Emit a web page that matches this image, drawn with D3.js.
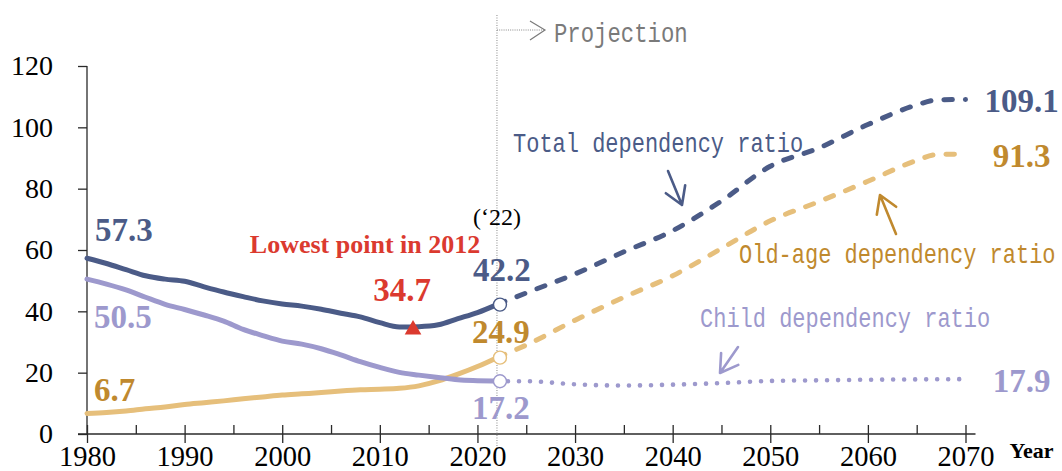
<!DOCTYPE html>
<html><head><meta charset="utf-8">
<script src="https://cdn.jsdelivr.net/npm/d3@7"></script>
<style>body{margin:0;background:#fff} svg{display:block}</style>
</head><body><svg id="c" width="1062" height="471"></svg>
<script>
// ---------- DATA ----------
const histYears = [1980,1982,1984,1986,1988,1990,1992,1994,1996,1998,2000,2002,2004,2006,2008,2010,2012,2014,2016,2018,2020,2022];
const totalHist = [57.3,55.6,53.6,51.6,50.5,49.8,48.0,46.3,44.8,43.4,42.4,41.7,40.7,39.4,38.2,36.3,34.9,35.0,35.6,37.6,39.6,42.2];
const childHist = [50.5,48.9,47.0,44.6,42.3,40.6,38.8,36.8,34.1,32.1,30.3,29.3,27.8,25.8,23.6,21.7,20.1,19.2,18.4,17.7,17.4,17.2];
const oldHist   = [6.7,7.0,7.5,8.2,8.8,9.6,10.2,10.8,11.5,12.1,12.7,13.1,13.5,14.0,14.4,14.6,14.9,15.7,17.3,19.5,22.0,24.9];

const projYears = [2022,2025,2030,2035,2040,2045,2050,2055,2060,2065,2067,2070];
const totalProj = [42.2,46.0,52.2,59.4,66.3,76.0,87.3,93.3,100.9,107.3,108.9,109.1];
const oldProj   = [24.9,29.0,37.1,44.6,51.6,60.5,69.5,75.8,82.4,89.2,91.1,91.3];
const childProj = [17.2,17.2,16.2,15.8,16.1,16.6,17.3,17.5,17.7,17.8,17.85,17.9];

const lowestPoint = {year: 2013.4, value: 34.7, label: "Lowest point in 2012"};
const baseYear = 2022;

const xTicks = d3.range(1980, 2071, 5);
const yTicks = [0,20,40,60,80,100,120];

const seriesNames = {total: "Total dependency ratio", old: "Old-age dependency ratio", child: "Child dependency ratio"};

// ---------- STYLE ----------
const C = {
  total: "#4b5b87", totalText: "#4b5b87",
  old: "#e6bf7b", oldText: "#c0892e",
  child: "#9d99cd", childText: "#9d99cd",
  red: "#db3a2f", axis: "#2a2a2a", grey: "#7a7a7a"
};
const SERIF = "'Liberation Serif','Times New Roman',serif";
const MONO = "'Liberation Mono','DejaVu Sans Mono',monospace";

const svg = d3.select("#c");
const x = d3.scaleLinear().domain([1980, 2070]).range([87, 965.5]);
const y = d3.scaleLinear().domain([0, 120]).range([434, 66]);

// ---------- AXES ----------
const gy = svg.append("g").attr("transform", `translate(${x(1980)},0)`)
  .call(d3.axisLeft(y).tickValues(yTicks).tickSize(9).tickPadding(25));
gy.select(".domain").remove();
gy.selectAll(".tick line").attr("stroke", C.axis).attr("stroke-width", 1.3);
gy.selectAll(".tick text").attr("font-family", SERIF).attr("font-size", 28).attr("fill", "#000");
svg.append("line").attr("x1", x(1980)).attr("x2", x(1980)).attr("y1", y(120)).attr("y2", y(0))
  .attr("stroke", C.axis).attr("stroke-width", 1.3);

const gx = svg.append("g").attr("transform", `translate(0,${y(0)})`)
  .call(d3.axisBottom(x).tickValues(xTicks).tickSize(0).tickPadding(0)
    .tickFormat(d => d % 10 === 0 ? d : ""));
gx.select(".domain").remove();
gx.selectAll(".tick line").attr("y1", -9).attr("y2", d => d % 10 === 0 ? 9 : 0)
  .attr("stroke", C.axis).attr("stroke-width", 1.3);
gx.selectAll(".tick text").attr("font-family", SERIF).attr("font-size", 28.5)
  .attr("fill", "#000").attr("y", 32).attr("dy", 0);
svg.append("line").attr("x1", x(1980) - 9).attr("x2", x(2070) + 10).attr("y1", y(0)).attr("y2", y(0))
  .attr("stroke", C.axis).attr("stroke-width", 1.3);
svg.append("text").attr("x", x(2070) + 44).attr("y", 458).text("Year")
  .attr("font-family", SERIF).attr("font-weight", "bold").attr("font-size", 22).attr("fill", "#000");

// ---------- NOTE TEXT (mono, slightly tall) ----------
function note(txt, xx, yy, color, size = 22) {
  svg.append("text").attr("transform", `translate(${xx},${yy}) scale(1,1.22)`).text(txt)
    .attr("font-family", MONO).attr("font-size", size).attr("fill", color);
}

// ---------- PROJECTION MARKER ----------
const xb = x(baseYear);
svg.append("line").attr("x1", xb).attr("x2", xb).attr("y1", 15).attr("y2", 448)
  .attr("stroke", "#888").attr("stroke-width", 1).attr("stroke-dasharray", "1,1.5");
svg.append("line").attr("x1", xb).attr("x2", xb + 47).attr("y1", 30).attr("y2", 30)
  .attr("stroke", "#888").attr("stroke-width", 1).attr("stroke-dasharray", "1,1.2");
svg.append("path").attr("d", `M${xb+33},21 L${xb+48},30 L${xb+33},40`)
  .attr("fill", "none").attr("stroke", C.grey).attr("stroke-width", 1.2);
note("Projection", xb + 57, 42, C.grey, 22.3);

// ---------- LINES ----------
const line = d3.line().x(d => x(d[0])).y(d => y(d[1])).curve(d3.curveMonotoneX);
const zip = (a, b) => a.map((v, i) => [v, b[i]]);

function draw(data, color, dash, width) {
  svg.append("path").datum(data).attr("d", line).attr("fill", "none")
    .attr("stroke", color).attr("stroke-width", width)
    .attr("stroke-linecap", "round").attr("stroke-linejoin", "round")
    .attr("stroke-dasharray", dash);
}
draw(zip(histYears, oldHist), C.old, null, 5);
draw(zip(histYears, childHist), C.child, null, 5);
draw(zip(histYears, totalHist), C.total, null, 5);
draw(zip(projYears, oldProj), C.old, "8.5,13", 5);
draw(zip(projYears, totalProj), C.total, "8.5,13", 5);
draw(zip(projYears, childProj), C.child, "0.01,11", 4.6);

// circles at base year
[[totalProj[0], C.total], [oldProj[0], C.old], [childProj[0], C.child]].forEach(([v, c]) => {
  svg.append("circle").attr("cx", xb + 3).attr("cy", y(v)).attr("r", 6.5)
    .attr("fill", "#fff").attr("stroke", c).attr("stroke-width", 1.4);
});

// lowest point triangle
svg.append("path").attr("d", d3.symbol(d3.symbolTriangle, 120)())
  .attr("transform", `translate(${x(lowestPoint.year)},${y(lowestPoint.value) + 2})`)
  .attr("fill", C.red);

// ---------- VALUE LABELS ----------
function num(txt, xx, yy, color, anchor = "start", size = 33) {
  svg.append("text").attr("x", xx).attr("y", yy).text(txt)
    .attr("font-family", SERIF).attr("font-weight", "bold").attr("font-size", size)
    .attr("fill", color).attr("text-anchor", anchor);
}
num(totalHist[0].toFixed(1), x(1980) + 8, y(totalHist[0]) - 17, C.totalText);
num(childHist[0].toFixed(1), x(1980) + 7, y(childHist[0]) + 49, C.childText);
num(oldHist[0].toFixed(1), x(1980) + 7, y(oldHist[0]) - 12, C.oldText);

num(totalProj[0].toFixed(1), xb + 5, y(totalProj[0]) - 24, C.totalText, "middle");
num(oldProj[0].toFixed(1), xb + 4, y(oldProj[0]) - 15, C.oldText, "middle");
num(childProj[0].toFixed(1), xb + 4, y(childProj[0]) + 38, C.childText, "middle");

const n = projYears.length - 1;
num(totalProj[n].toFixed(1), x(2070) + 56, y(totalProj[n]) + 12.5, C.totalText, "middle");
num(oldProj[n].toFixed(1), x(2070) + 56, y(oldProj[n]) + 12.5, C.oldText, "middle");
num(childProj[n].toFixed(1), x(2070) + 56, y(childProj[n]) + 12.5, C.childText, "middle");

num(lowestPoint.value.toFixed(1), x(lowestPoint.year) - 11, y(lowestPoint.value) - 27, C.red, "middle");
num(lowestPoint.label, x(lowestPoint.year) - 48, 252.5, C.red, "middle", 26);

svg.append("text").attr("x", xb).attr("y", 225).text("(\u201822)")
  .attr("font-family", SERIF).attr("font-size", 24).attr("fill", "#000").attr("text-anchor", "middle");

// ---------- SERIES ANNOTATIONS ----------
note(seriesNames.total, 513, 152, C.totalText);
note(seriesNames.old, 739, 263, C.oldText);
note(seriesNames.child, 700, 327, C.childText);

function arrow(x0, y0, x1, y1, color) {
  const a = Math.atan2(y0 - y1, x0 - x1), L = 20, s = 0.55;
  const p1 = [x1 + L * Math.cos(a + s), y1 + L * Math.sin(a + s)];
  const p2 = [x1 + L * Math.cos(a - s), y1 + L * Math.sin(a - s)];
  svg.append("path")
    .attr("d", `M${x0},${y0} L${x1},${y1} M${p1[0]},${p1[1]} L${x1},${y1} L${p2[0]},${p2[1]}`)
    .attr("fill", "none").attr("stroke", color).attr("stroke-width", 2.6)
    .attr("stroke-linecap", "round").attr("stroke-linejoin", "round");
}
arrow(668, 171, 682, 205, C.total);
arrow(896, 234, 880, 195, C.oldText);
arrow(738, 347, 720, 373, C.child);
</script></body></html>
